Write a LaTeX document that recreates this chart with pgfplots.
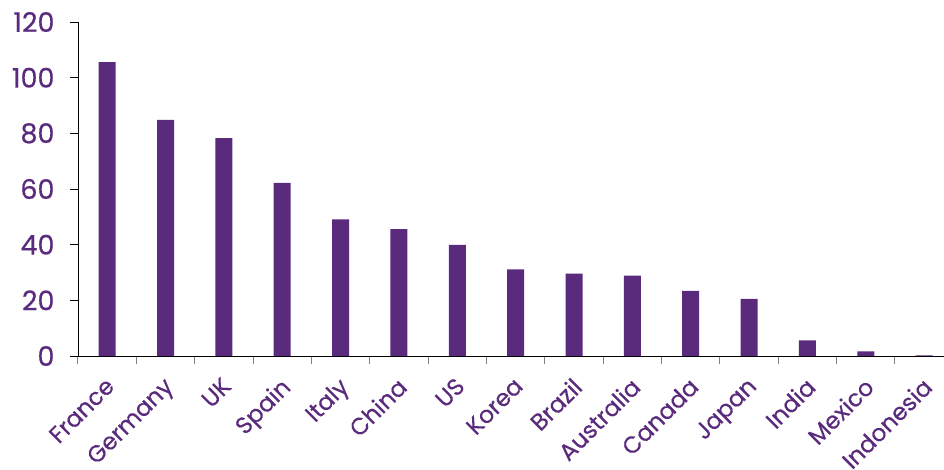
\documentclass[border=0pt]{standalone}
\usepackage{fontspec}
\setmainfont{Poppins}[FakeBold=0.4]
\usepackage{pgfplots}
\pgfplotsset{compat=1.18}
\definecolor{barpurple}{HTML}{5A2A7C}
\begin{document}
\begin{tikzpicture}
\begin{axis}[
  scale only axis,
  width=866pt, height=334pt,
  xmin=-0.5, xmax=14.34,
  ymin=0, ymax=120,
  ytick={0,20,...,120},
  xtick={0,...,14},
  xticklabels={France,Germany,UK,Spain,Italy,China,US,Korea,Brazil,Australia,Canada,Japan,India,Mexico,Indonesia},
  minor xtick={-0.5,0.5,...,14.5},
  axis x line*=bottom,
  axis y line*=left,
  axis line style={black, line width=0.8pt, -},
  tick align=outside,
  major x tick style={draw=none},
  minor x tick style={gray, line width=1pt},
  minor tick length=8pt,
  major tick length=8pt,
  ytick style={black, line width=0.8pt},
  tick label style={text=barpurple},
  /pgf/number format/assume math mode=true,
  x tick label style={font=\fontsize{23.5}{28}\selectfont, xshift=-3pt, yshift=-10.5pt, rotate=45, anchor=north east, inner sep=1pt},
  y tick label style={font=\fontsize{27}{30}\selectfont, xshift=-12pt},
  clip=false,
]
\addplot[ybar, bar width=17pt, fill=barpurple, draw=none] coordinates {
(0,105.6) (1,84.8) (2,78.3) (3,62.2) (4,49.1) (5,45.6) (6,39.9) (7,31.1)
(8,29.6) (9,28.9) (10,23.4) (11,20.5) (12,5.6) (13,1.7) (14,0.2)};
\end{axis}
\pgfresetboundingbox
\useasboundingbox (-78pt,-114pt) rectangle (866pt,356pt);
\end{tikzpicture}
\end{document}
